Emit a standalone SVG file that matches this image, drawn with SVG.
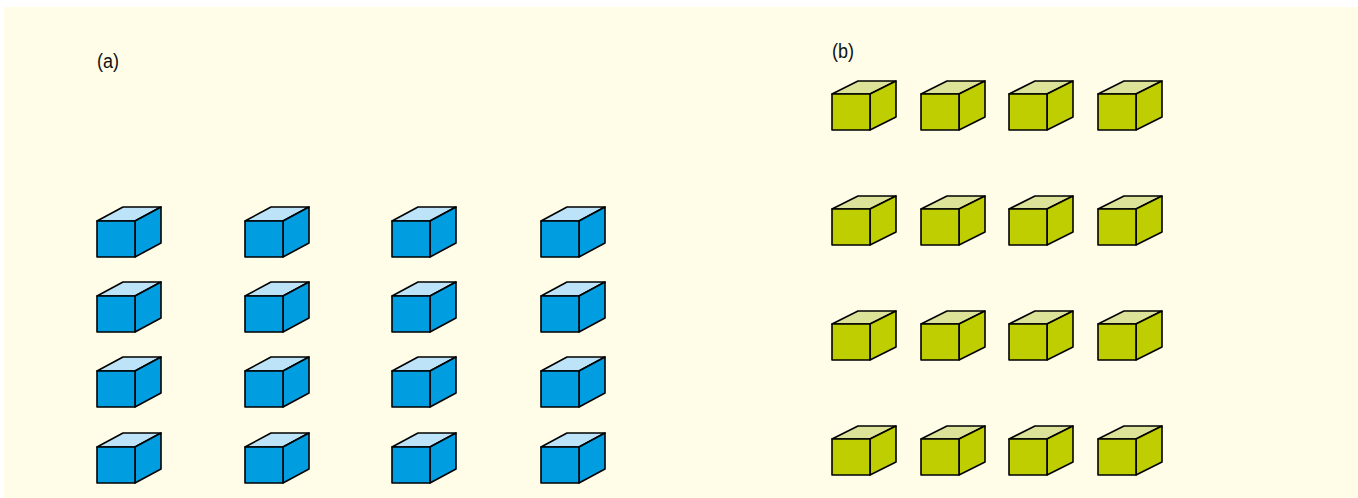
<svg xmlns="http://www.w3.org/2000/svg" xmlns:xlink="http://www.w3.org/1999/xlink" width="1358" height="498" viewBox="0 0 1358 498">
  <style>
    .edge { stroke: #000; stroke-width: 1.6; stroke-linejoin: round; }
    .lbl { font-family: "Liberation Sans", Arial, sans-serif; font-size: 20px; fill: #111; }
    .b-front, .b-side { fill: #009EE0; }
    .b-top { fill: #BCE3F8; }
    .g-front, .g-side { fill: #BFCE00; }
    .g-top { fill: #DCE399; }
  </style>
  <defs>
    <!-- unit cube: front face 38x36 at origin, depth offset (26,-14) -->
    <g id="cubeBlue">
      <path class="b-top edge" d="M0,0 L26,-14 L64,-14 L38,0 Z"/>
      <path class="b-side edge" d="M38,0 L64,-14 L64,22 L38,36 Z"/>
      <path class="b-front edge" d="M0,0 H38 V36 H0 Z"/>
    </g>
    <g id="cubeGreen">
      <path class="g-top edge" d="M0,0 L26,-13 L64,-13 L38,0 Z"/>
      <path class="g-side edge" d="M38,0 L64,-13 L64,23 L38,36 Z"/>
      <path class="g-front edge" d="M0,0 H38 V36 H0 Z"/>
    </g>
  </defs>

  <rect x="0" y="0" width="1358" height="498" fill="#FFFFFF"/>
  <rect x="4" y="7" width="1354" height="491" fill="#FFFDE8"/>

  <text class="lbl" x="97" y="68" textLength="22" lengthAdjust="spacingAndGlyphs">(a)</text>
  <text class="lbl" x="832" y="58" textLength="22" lengthAdjust="spacingAndGlyphs">(b)</text>

  <!-- panel (a): 4x4 blue cubes -->
  <g id="panel-a">
    <g id="a-r1c1"><use xlink:href="#cubeBlue" x="97" y="221"/></g>
    <g id="a-r1c2"><use xlink:href="#cubeBlue" x="245" y="221"/></g>
    <g id="a-r1c3"><use xlink:href="#cubeBlue" x="392" y="221"/></g>
    <g id="a-r1c4"><use xlink:href="#cubeBlue" x="541" y="221"/></g>
    <g id="a-r2c1"><use xlink:href="#cubeBlue" x="97" y="296"/></g>
    <g id="a-r2c2"><use xlink:href="#cubeBlue" x="245" y="296"/></g>
    <g id="a-r2c3"><use xlink:href="#cubeBlue" x="392" y="296"/></g>
    <g id="a-r2c4"><use xlink:href="#cubeBlue" x="541" y="296"/></g>
    <g id="a-r3c1"><use xlink:href="#cubeBlue" x="97" y="371"/></g>
    <g id="a-r3c2"><use xlink:href="#cubeBlue" x="245" y="371"/></g>
    <g id="a-r3c3"><use xlink:href="#cubeBlue" x="392" y="371"/></g>
    <g id="a-r3c4"><use xlink:href="#cubeBlue" x="541" y="371"/></g>
    <g id="a-r4c1"><use xlink:href="#cubeBlue" x="97" y="447"/></g>
    <g id="a-r4c2"><use xlink:href="#cubeBlue" x="245" y="447"/></g>
    <g id="a-r4c3"><use xlink:href="#cubeBlue" x="392" y="447"/></g>
    <g id="a-r4c4"><use xlink:href="#cubeBlue" x="541" y="447"/></g>
  </g>

  <!-- panel (b): 4x4 green cubes -->
  <g id="panel-b">
    <g id="b-r1c1"><use xlink:href="#cubeGreen" x="832" y="94"/></g>
    <g id="b-r1c2"><use xlink:href="#cubeGreen" x="921" y="94"/></g>
    <g id="b-r1c3"><use xlink:href="#cubeGreen" x="1009" y="94"/></g>
    <g id="b-r1c4"><use xlink:href="#cubeGreen" x="1098" y="94"/></g>
    <g id="b-r2c1"><use xlink:href="#cubeGreen" x="832" y="209"/></g>
    <g id="b-r2c2"><use xlink:href="#cubeGreen" x="921" y="209"/></g>
    <g id="b-r2c3"><use xlink:href="#cubeGreen" x="1009" y="209"/></g>
    <g id="b-r2c4"><use xlink:href="#cubeGreen" x="1098" y="209"/></g>
    <g id="b-r3c1"><use xlink:href="#cubeGreen" x="832" y="324"/></g>
    <g id="b-r3c2"><use xlink:href="#cubeGreen" x="921" y="324"/></g>
    <g id="b-r3c3"><use xlink:href="#cubeGreen" x="1009" y="324"/></g>
    <g id="b-r3c4"><use xlink:href="#cubeGreen" x="1098" y="324"/></g>
    <g id="b-r4c1"><use xlink:href="#cubeGreen" x="832" y="439"/></g>
    <g id="b-r4c2"><use xlink:href="#cubeGreen" x="921" y="439"/></g>
    <g id="b-r4c3"><use xlink:href="#cubeGreen" x="1009" y="439"/></g>
    <g id="b-r4c4"><use xlink:href="#cubeGreen" x="1098" y="439"/></g>
  </g>
</svg>
